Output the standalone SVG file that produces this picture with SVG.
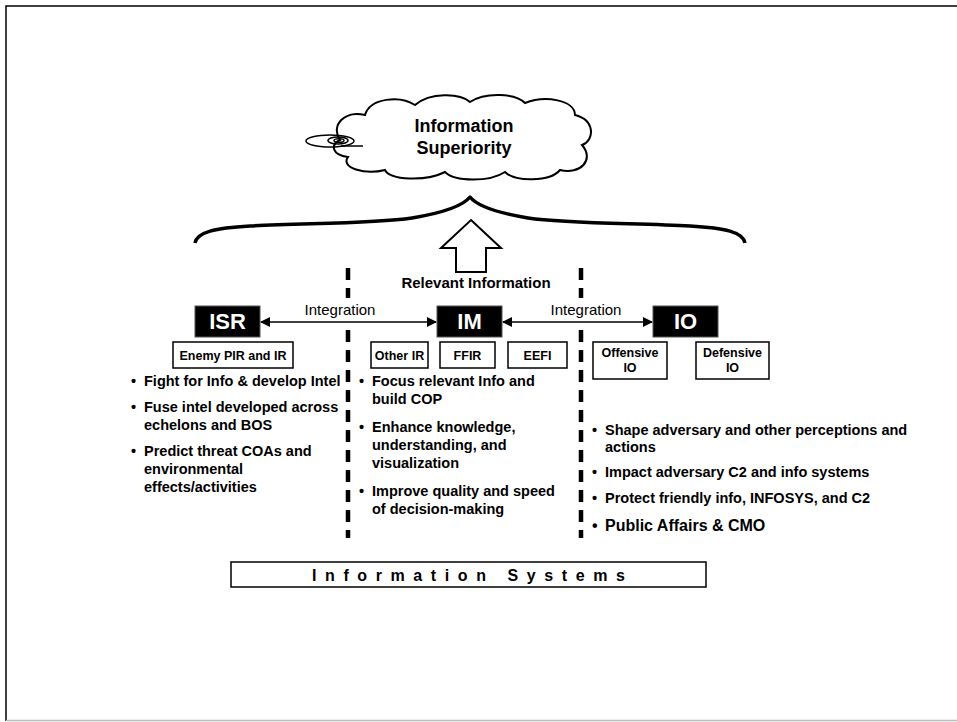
<svg xmlns="http://www.w3.org/2000/svg" width="957" height="722" viewBox="0 0 957 722">
<defs>
<style>
.t{font-family:"Liberation Sans",Arial,sans-serif;font-weight:bold;fill:#000}
.r{font-family:"Liberation Sans",Arial,sans-serif;fill:#000}
.w{font-family:"Liberation Sans",Arial,sans-serif;font-weight:bold;fill:#fff;font-size:22px;text-anchor:middle}
.bx{fill:#fff;stroke:#000;stroke-width:1.5}
.bk{fill:#000;stroke:#555;stroke-width:1}
.dash{stroke:#000;stroke-width:4.5;stroke-dasharray:12 8;fill:none}
.sm{font-size:12.5px;text-anchor:middle}
</style>
<marker id="ah" viewBox="0 0 10 10" refX="9" refY="5" markerWidth="10" markerHeight="10" markerUnits="userSpaceOnUse" orient="auto-start-reverse">
<path d="M0,0 L10,5 L0,10 Z" fill="#000"/>
</marker>
</defs>
<rect x="0" y="0" width="957" height="722" fill="#fff"/>
<path d="M6,721 L6,6 L957,6" fill="none" stroke="#000" stroke-width="1.5"/>
<line x1="6" y1="720.5" x2="957" y2="720.5" stroke="#bbb" stroke-width="1.5"/>

<g id="cloud">
<path d="M340,140 C330,125 345,110 365,115 C370,98 400,95 415,105 C430,92 460,93 470,102 C485,92 515,93 525,103 C545,95 575,100 575,115 C595,120 595,140 582,145 C595,160 580,175 560,170 C550,182 515,182 505,172 C490,182 455,182 445,172 C425,182 390,180 385,170 C365,175 340,168 348,157 C332,155 330,145 340,140 Z" fill="#fff" stroke="#000" stroke-width="2"/>
<ellipse cx="330" cy="141" rx="24" ry="6" fill="none" stroke="#000" stroke-width="1.5"/>
<ellipse cx="338" cy="140.5" rx="10" ry="3.5" fill="none" stroke="#000" stroke-width="1.5"/>
<ellipse cx="339" cy="140.5" rx="5" ry="1.8" fill="none" stroke="#000" stroke-width="1.5"/>
<line x1="341" y1="146" x2="363" y2="146" stroke="#000" stroke-width="1.5"/>
<text class="t" x="464" y="132" font-size="18" text-anchor="middle">Information</text>
<text class="t" x="464" y="154" font-size="18" text-anchor="middle">Superiority</text>
</g>

<g id="brace">
<path d="M195,243 C197,232 215,228 250,226 C300,223 372,224 412,218 C442,213 462,207 470,197 C478,207 498,213 528,218 C568,224 640,223 690,226 C725,228 743,232 745,243" fill="none" stroke="#000" stroke-width="3.5" stroke-linejoin="round"/>
</g>

<g id="relevant">
<polygon points="471,220 501,248 486,248 486,272 456,272 456,248 441,248" fill="#fff" stroke="#000" stroke-width="2"/>
<text class="t" x="476" y="288" font-size="15" text-anchor="middle">Relevant Information</text>
</g>

<g id="dividers">
<line class="dash" x1="348" y1="268" x2="348" y2="298"/>
<line class="dash" x1="348" y1="330" x2="348" y2="538"/>
<line class="dash" x1="581" y1="268" x2="581" y2="298"/>
<line class="dash" x1="581" y1="330" x2="581" y2="538"/>
</g>

<g id="connectors">
<line x1="261" y1="322" x2="436" y2="322" stroke="#000" stroke-width="1.5" marker-start="url(#ah)" marker-end="url(#ah)"/>
<line x1="503" y1="322" x2="652" y2="322" stroke="#000" stroke-width="1.5" marker-start="url(#ah)" marker-end="url(#ah)"/>
<text class="r" x="340" y="315" font-size="15" text-anchor="middle">Integration</text>
<text class="r" x="586" y="315" font-size="15" text-anchor="middle">Integration</text>
</g>

<g id="isr">
<rect class="bk" x="195" y="306" width="65" height="31"/>
<text class="w" x="227.5" y="329">ISR</text>
</g>
<g id="im">
<rect class="bk" x="437" y="306" width="65" height="31"/>
<text class="w" x="469.5" y="329">IM</text>
</g>
<g id="io">
<rect class="bk" x="653" y="306" width="65" height="31"/>
<text class="w" x="685.5" y="329">IO</text>
</g>

<g id="enemy-pir">
<rect class="bx" x="173" y="342" width="120" height="26"/>
<text class="t sm" x="233" y="359.5">Enemy PIR and IR</text>
</g>
<g id="other-ir">
<rect class="bx" x="371" y="342" width="57" height="26"/>
<text class="t sm" x="399.5" y="359.5">Other IR</text>
</g>
<g id="ffir">
<rect class="bx" x="440" y="342" width="55" height="26"/>
<text class="t sm" x="467.5" y="359.5">FFIR</text>
</g>
<g id="eefi">
<rect class="bx" x="508" y="342" width="59" height="26"/>
<text class="t sm" x="537.5" y="359.5">EEFI</text>
</g>
<g id="offensive-io">
<rect class="bx" x="593" y="342" width="74" height="37"/>
<text class="t sm" x="630" y="357">Offensive</text>
<text class="t sm" x="630" y="372">IO</text>
</g>
<g id="defensive-io">
<rect class="bx" x="696" y="342" width="73" height="37"/>
<text class="t sm" x="732.5" y="357">Defensive</text>
<text class="t sm" x="732.5" y="372">IO</text>
</g>

<g id="isr-list" class="t" font-size="14.5">
<text x="131" y="386">•</text><text x="144" y="386">Fight for Info &amp; develop Intel</text>
<text x="131" y="412">•</text><text x="144" y="412">Fuse intel developed across</text>
<text x="144" y="430">echelons and BOS</text>
<text x="131" y="456">•</text><text x="144" y="456">Predict threat COAs and</text>
<text x="144" y="474">environmental</text>
<text x="144" y="492">effects/activities</text>
</g>

<g id="im-list" class="t" font-size="14.5">
<text x="359" y="386">•</text><text x="372" y="386">Focus relevant Info and</text>
<text x="372" y="404">build COP</text>
<text x="359" y="432">•</text><text x="372" y="432">Enhance knowledge,</text>
<text x="372" y="450">understanding, and</text>
<text x="372" y="468">visualization</text>
<text x="359" y="496">•</text><text x="372" y="496">Improve quality and speed</text>
<text x="372" y="514">of decision-making</text>
</g>

<g id="io-list" class="t" font-size="14.5">
<text x="592" y="435">•</text><text x="605" y="435">Shape adversary and other perceptions and</text>
<text x="605" y="452">actions</text>
<text x="592" y="477">•</text><text x="605" y="477">Impact adversary C2 and info systems</text>
<text x="592" y="503">•</text><text x="605" y="503">Protect friendly info, INFOSYS, and C2</text>
<text x="592" y="531" font-size="16">•</text><text x="605" y="531" font-size="16">Public Affairs &amp; CMO</text>
</g>

<g id="information-systems">
<rect class="bx" x="231" y="562" width="475" height="25"/>
<text class="t" x="312" y="581" font-size="16" textLength="313" lengthAdjust="spacing">Information Systems</text>
</g>
</svg>
